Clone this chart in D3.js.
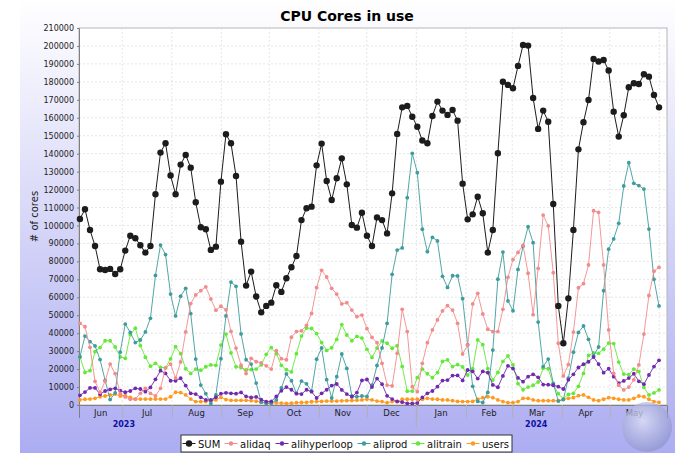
<!DOCTYPE html>
<html>
<head>
<meta charset="utf-8">
<script src="https://cdn.jsdelivr.net/npm/d3@7"></script>
<style>
  body { margin: 0; background: #fff; }
  svg { display: block; font-family: 'DejaVu Sans', sans-serif; }
</style>
</head>
<body>
<svg id="chart" width="675" height="453"></svg>
<script>
// first and last sample times (samples are evenly spaced between them)
const sampleStart = Date.UTC(2023, 5, 4, 12);
const sampleEnd = Date.UTC(2024, 4, 31, 20);

const sumValues = [
  103600,109000,97500,88600,75600,75200,75800,73000,75600,86000,
  94300,92900,89000,84900,88600,117400,140600,145800,127800,117400,
  133900,139300,132200,112900,99000,97900,86400,88200,124400,150800,
  145800,127600,91000,66500,74300,60400,51600,55200,57000,66700,
  63000,70600,76700,83000,103000,109600,110500,133500,145600,124800,
  114200,126300,137400,122900,100300,98800,107100,94300,88600,104500,
  103000,95600,117900,151000,165800,166600,160600,155000,147300,145800,
  161000,169000,164000,161600,164300,158400,123300,103400,106200,116000,
  106800,84900,97500,140200,180100,178300,176400,188900,200600,200200,
  171000,153800,164000,157800,112000,55200,34400,59400,97500,142400,
  157500,169900,192800,191300,192200,186300,163400,149500,161400,177000,
  179200,178800,184200,182900,172700,165800
];
const alidaq = [
  45500,43600,32100,13200,7000,13200,22800,17500,6300,4500,
  3200,3200,6500,9300,6500,5000,9300,20700,22800,15000,
  24000,40700,56500,61300,63700,65800,59000,52800,55000,53000,
  41000,31700,22200,17500,26000,24100,23500,21800,20000,30300,
  25800,25200,37800,40900,41300,44400,51000,65400,75000,71300,
  65000,61800,56300,57000,52900,49200,50100,42500,37700,34700,
  23200,11100,10600,28800,53300,40900,10200,7400,23200,34700,
  41800,47400,52400,55300,52900,45500,28400,33400,56300,62200,
  50700,42200,40900,40900,53300,71100,81000,85000,89000,73400,
  50300,76100,105800,99800,73700,34400,16200,22500,40600,65300,
  67600,78000,108200,107300,78000,41800,17600,11000,8400,10000,
  14000,22300,39500,61000,74500,76700
];
const alihyperloop = [
  5400,7200,9500,9500,6000,7800,8700,9300,8000,7100,
  7800,9300,8900,7400,9800,14300,19100,17600,13500,13500,
  14900,10800,6500,6100,4300,2800,2800,4300,6300,6800,
  6500,6300,7000,4800,4200,4500,3000,1900,2000,4800,
  7900,10000,8500,6300,6100,8500,7400,3900,6500,8500,
  10800,11700,8400,6100,4600,6900,13700,14200,10000,14700,
  11600,5100,3300,2000,1600,900,900,1100,4200,6500,
  7800,10200,13600,13900,16400,16500,13700,19500,18700,14700,
  18700,18000,11200,9900,16200,21800,20300,15100,13000,15800,
  17100,15400,11400,11300,11000,10200,8900,14000,17100,20900,
  22700,24100,26700,22800,18000,20200,15800,12200,13400,15000,
  17400,13200,11600,16700,21400,24900
];
const aliprod = [
  26800,38400,35300,32900,25300,13700,3000,6800,29500,45100,
  40400,34800,36200,40700,48300,72200,89100,83800,61800,49600,
  60600,65000,50900,25600,11100,6300,900,5600,25800,49600,
  68500,66100,39600,25200,22800,12200,1600,900,900,2800,
  9500,17300,13500,6500,13300,11800,7700,25500,31800,14100,
  3900,15800,28400,20400,5000,4600,5000,4800,11000,22000,
  31800,45500,72800,86300,87500,115500,140200,129400,97900,85400,
  93400,91400,71700,65500,72000,71900,59200,33600,10400,2000,
  1400,7000,30600,70100,85200,58000,52500,75500,88400,99300,
  90400,46200,21400,25600,12100,2200,3000,15000,29400,40400,
  44000,36600,27400,32300,63700,86800,92500,101200,122000,135000,
  123500,122200,120300,98000,70000,55200
];
const alitrain = [
  26900,18100,19100,29700,32000,35800,35800,32300,26800,26000,
  39200,42800,33100,26600,21600,23200,21000,20700,25700,32500,
  28600,20200,17600,20000,19400,21300,22300,22100,33400,39500,
  29000,21300,20900,19500,19700,20000,22300,28200,32000,28600,
  22100,19700,18400,28600,38400,42900,42600,39800,34800,30400,
  31900,36500,44800,39000,35800,38200,37300,31000,26500,31700,
  35700,34400,31600,33000,21500,7700,7700,15200,20000,17400,
  15200,18000,24300,25100,21400,22500,21200,16700,20200,36200,
  33600,20300,13900,18100,24300,27300,22300,11900,8500,10000,
  11000,12800,20500,20200,11300,6300,3400,5900,6500,10400,
  17600,27600,29000,28800,31100,34500,34200,23900,17200,16900,
  20000,18600,9800,5600,6700,8400
];
const users = [
  2800,3200,3300,3700,4600,5000,5600,6100,5000,5200,
  4300,3300,3300,3300,3300,3300,3300,3300,4600,7100,
  6900,5600,3300,1900,1900,1900,2400,2800,4300,3000,
  2600,2600,2600,2600,2400,2100,1700,1300,1200,1200,
  1100,900,1000,1300,1400,1500,1800,1900,2000,2200,
  2200,2200,2300,2400,2500,2600,2800,3200,2800,2200,
  1900,1300,1900,1900,3200,3200,3200,3200,3200,3700,
  3300,3200,2800,2800,2400,2000,1900,1900,2000,3200,
  4100,4600,4100,2800,1900,1300,1300,1900,3700,3700,
  2800,2400,2400,2400,2400,2400,3200,3700,4100,5200,
  5600,4300,2800,2400,3200,4100,3700,3200,2800,2800,
  3700,5000,4600,3200,1900,1500
];

const seriesNames = ['SUM', 'alidaq', 'alihyperloop', 'aliprod', 'alitrain', 'users'];
const seriesData = [sumValues, alidaq, alihyperloop, aliprod, alitrain, users];
const seriesColors = ['#1c1c1c', '#f28b8b', '#7129b0', '#3e9c9c', '#66e83a', '#ff9a1f'];

const yTicks = d3.range(0, 210001, 10000);
const monthLabels = ['Jun', 'Jul', 'Aug', 'Sep', 'Oct', 'Nov', 'Dec', 'Jan', 'Feb', 'Mar', 'Apr', 'May'];
const yearLabels = ['2023', '2024'];

const svg = d3.select('#chart');
const W = 675, H = 453;
const plot = { left: 79, top: 28, right: 667, bottom: 405 };

const defs = svg.append('defs');
const bg = defs.append('linearGradient').attr('id', 'bg').attr('x1', 0).attr('y1', 0).attr('x2', 0).attr('y2', 1);
bg.append('stop').attr('offset', '0%').attr('stop-color', '#ffffff');
bg.append('stop').attr('offset', '100%').attr('stop-color', '#acacf2');

const globe = defs.append('radialGradient').attr('id', 'globe').attr('cx', '42%').attr('cy', '38%').attr('r', '62%');
globe.append('stop').attr('offset', '0%').attr('stop-color', '#dfe2f4').attr('stop-opacity', 0.8);
globe.append('stop').attr('offset', '65%').attr('stop-color', '#aab0dc').attr('stop-opacity', 0.7);
globe.append('stop').attr('offset', '100%').attr('stop-color', '#8c94c8').attr('stop-opacity', 0.65);

svg.append('rect').attr('x', 20).attr('y', 0).attr('width', W - 20).attr('height', H).attr('fill', 'url(#bg)');

svg.append('text')
  .attr('x', 347).attr('y', 20.5)
  .attr('text-anchor', 'middle')
  .attr('font-size', 14).attr('font-weight', 'bold')
  .text('CPU Cores in use');

const x = d3.scaleUtc()
  .domain([new Date(Date.UTC(2023, 5, 3, 22)), new Date(Date.UTC(2024, 5, 5, 20))])
  .range([plot.left, plot.right]);

const y = d3.scaleLinear()
  .domain([0, 210000])
  .range([plot.bottom, plot.top]);

const dates = sumValues.map((_, i) =>
  new Date(sampleStart + i * (sampleEnd - sampleStart) / (sumValues.length - 1)));

svg.append('rect')
  .attr('x', plot.left).attr('y', plot.top)
  .attr('width', plot.right - plot.left).attr('height', plot.bottom - plot.top)
  .attr('fill', '#fff').attr('stroke', '#b4b4b4').attr('stroke-width', 1);

// month boundaries inside the visible range
const monthStarts = d3.utcMonth.range(new Date(Date.UTC(2023, 5, 1)), new Date(Date.UTC(2024, 5, 1)));
const boundaries = monthStarts.slice(1).concat([new Date(Date.UTC(2024, 5, 1))]);

const grid = svg.append('g').attr('stroke', '#e0e0e0').attr('stroke-dasharray', '2,2').attr('stroke-width', 0.8);
yTicks.slice(1).forEach((t) => {
  grid.append('line').attr('x1', plot.left).attr('x2', plot.right).attr('y1', y(t)).attr('y2', y(t));
});
boundaries.forEach((d) => {
  grid.append('line').attr('x1', x(d)).attr('x2', x(d)).attr('y1', plot.top).attr('y2', plot.bottom);
});

// y axis
const yAxis = svg.append('g')
  .attr('transform', `translate(${plot.left},0)`)
  .call(d3.axisLeft(y).tickValues(yTicks).tickSize(2).tickPadding(3).tickFormat(d3.format('d')));
yAxis.select('.domain').attr('stroke', '#808080');
yAxis.selectAll('.tick line').attr('stroke', '#808080');
yAxis.selectAll('text').attr('font-size', 8).attr('font-family', 'DejaVu Sans, sans-serif').attr('fill', '#222');

svg.append('text')
  .attr('transform', `translate(37.5,${(plot.top + plot.bottom) / 2}) rotate(-90)`)
  .attr('text-anchor', 'middle')
  .attr('font-size', 10)
  .attr('fill', '#222')
  .text('# of cores');

// x axis (period style)
const xAxis = svg.append('g')
  .attr('transform', `translate(0,${plot.bottom})`)
  .call(d3.axisBottom(x).tickValues(boundaries).tickSize(13).tickFormat(''));
xAxis.select('.domain').attr('stroke', '#808080');
xAxis.selectAll('.tick line').attr('stroke', '#b0b0b0');

svg.append('line')
  .attr('x1', x(new Date(Date.UTC(2024, 0, 1)))).attr('x2', x(new Date(Date.UTC(2024, 0, 1))))
  .attr('y1', plot.bottom).attr('y2', plot.bottom + 23)
  .attr('stroke', '#b0b0b0');

const [d0, d1] = x.domain();
monthStarts.forEach((m, i) => {
  const a = Math.max(+m, +d0);
  const b = Math.min(+d3.utcMonth.offset(m, 1), +d1);
  svg.append('text')
    .attr('x', (x(new Date(a)) + x(new Date(b))) / 2)
    .attr('y', plot.bottom + 10.5)
    .attr('text-anchor', 'middle')
    .attr('font-size', 8.5)
    .attr('fill', '#222')
    .text(monthLabels[i]);
});

const yearAnchors = [new Date(Date.UTC(2023, 6, 2)), new Date(Date.UTC(2024, 2, 16))];
yearLabels.forEach((label, i) => {
  svg.append('text')
    .attr('x', x(yearAnchors[i]))
    .attr('y', plot.bottom + 22)
    .attr('text-anchor', 'middle')
    .attr('font-size', 8)
    .attr('font-weight', 'bold')
    .attr('fill', '#1010a0')
    .text(label);
});

// series, first series drawn last (on top)
const line = d3.line().x((d) => x(d.date)).y((d) => y(d.value));
const marks = svg.append('g');
d3.range(seriesData.length).reverse().forEach((s) => {
  const pts = seriesData[s].map((v, i) => ({ date: dates[i], value: v }));
  const g = marks.append('g');
  g.append('path')
    .attr('d', line(pts))
    .attr('fill', 'none')
    .attr('stroke', seriesColors[s])
    .attr('stroke-width', s === 0 ? 1 : 0.9);
  g.selectAll('circle')
    .data(pts)
    .join('circle')
    .attr('cx', (d) => x(d.date))
    .attr('cy', (d) => y(d.value))
    .attr('r', s === 0 ? 3.2 : 1.9)
    .attr('fill', seriesColors[s]);
});

// legend
const legendX = [198, 240, 291, 373, 427, 482];
const legend = svg.append('g');
legend.append('rect')
  .attr('x', 181).attr('y', 435).attr('width', 331).attr('height', 17)
  .attr('fill', '#fff').attr('stroke', '#333').attr('stroke-width', 1);
seriesNames.forEach((name, i) => {
  const cx = legendX[i] - 9;
  legend.append('line')
    .attr('x1', cx - 6.5).attr('x2', cx + 6.5).attr('y1', 443.5).attr('y2', 443.5)
    .attr('stroke', seriesColors[i]).attr('stroke-width', 1);
  legend.append('circle')
    .attr('cx', cx).attr('cy', 443.5).attr('r', i === 0 ? 3.2 : 2.2)
    .attr('fill', seriesColors[i]);
  legend.append('text')
    .attr('x', legendX[i]).attr('y', 447.5)
    .attr('font-size', 10)
    .attr('fill', '#111')
    .text(name);
});

// globe watermark
svg.append('circle')
  .attr('cx', 647).attr('cy', 427).attr('r', 25)
  .attr('fill', 'url(#globe)');
</script>
</body>
</html>
